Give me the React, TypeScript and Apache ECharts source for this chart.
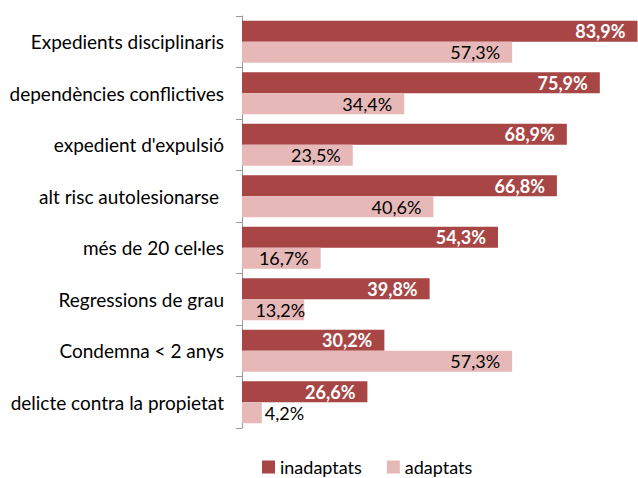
import React, { useEffect, useRef } from "react";
import * as echarts from "echarts";

const categories = [
  "Expedients disciplinaris",
  "dependències conflictives",
  "expedient d'expulsió",
  "alt risc autolesionarse ",
  "més de 20 cel·les",
  "Regressions de grau",
  "Condemna < 2 anys",
  "delicte contra la propietat",
];
const inadaptats = [83.9, 75.9, 68.9, 66.8, 54.3, 39.8, 30.2, 26.6];
const adaptats = [57.3, 34.4, 23.5, 40.6, 16.7, 13.2, 57.3, 4.2];
const seriesNames = ["inadaptats", "adaptats"];

const FONT = "Lato, 'Open Sans', sans-serif";
const fmt = (v: number) => v.toFixed(1).replace(".", ",") + "%";

export default function App() {
  const ref = useRef<HTMLDivElement>(null);
  useEffect(() => {
    if (!ref.current) return;
    const chart = echarts.init(ref.current, null, { renderer: "svg" });
    chart.setOption({
      animation: false,
      textStyle: { fontFamily: FONT },
      grid: { left: 242, right: -2, top: 16, bottom: 50, containLabel: false },
      legend: {
        bottom: 2,
        left: 262,
        padding: 0,
        itemWidth: 13,
        itemHeight: 13,
        itemGap: 25,
        icon: "rect",
        textStyle: { fontSize: 18, color: "#000", fontFamily: FONT },
        data: seriesNames,
      },
      xAxis: {
        type: "value",
        min: 0,
        max: 84,
        show: false,
      },
      yAxis: {
        type: "category",
        inverse: true,
        data: categories,
        axisLine: { show: true, lineStyle: { color: "#999", width: 1 } },
        axisTick: { show: true, length: 6, lineStyle: { color: "#999" } },
        axisLabel: { fontSize: 19, color: "#000", margin: 18, fontFamily: FONT },
        splitLine: { show: false },
      },
      series: [
        {
          name: seriesNames[0],
          type: "bar",
          data: inadaptats,
          barWidth: 21,
          barGap: "0%",
          clip: false,
          itemStyle: { color: "#A84545" },
          label: {
            show: true,
            position: "insideRight",
            distance: 12,
            color: "#fff",
            fontWeight: "bold",
            fontSize: 18,
            fontFamily: FONT,
            formatter: (p: any) => fmt(p.value),
          },
        },
        {
          name: seriesNames[1],
          type: "bar",
          data: adaptats.map((v) =>
            v < 8
              ? { value: v, label: { position: "right", distance: 3 } }
              : v < 15
              ? { value: v, label: { distance: -1 } }
              : v
          ),
          barWidth: 21,
          barGap: "0%",
          clip: false,
          itemStyle: { color: "#E6B9B8" },
          label: {
            show: true,
            position: "insideRight",
            distance: 12,
            color: "#000",
            fontSize: 18,
            fontFamily: FONT,
            formatter: (p: any) => fmt(p.value),
          },
        },
      ],
    });
    return () => chart.dispose();
  }, []);
  return <div ref={ref} style={{ width: 638, height: 478, position: "absolute", left: 0, top: 0 }} />;
}
